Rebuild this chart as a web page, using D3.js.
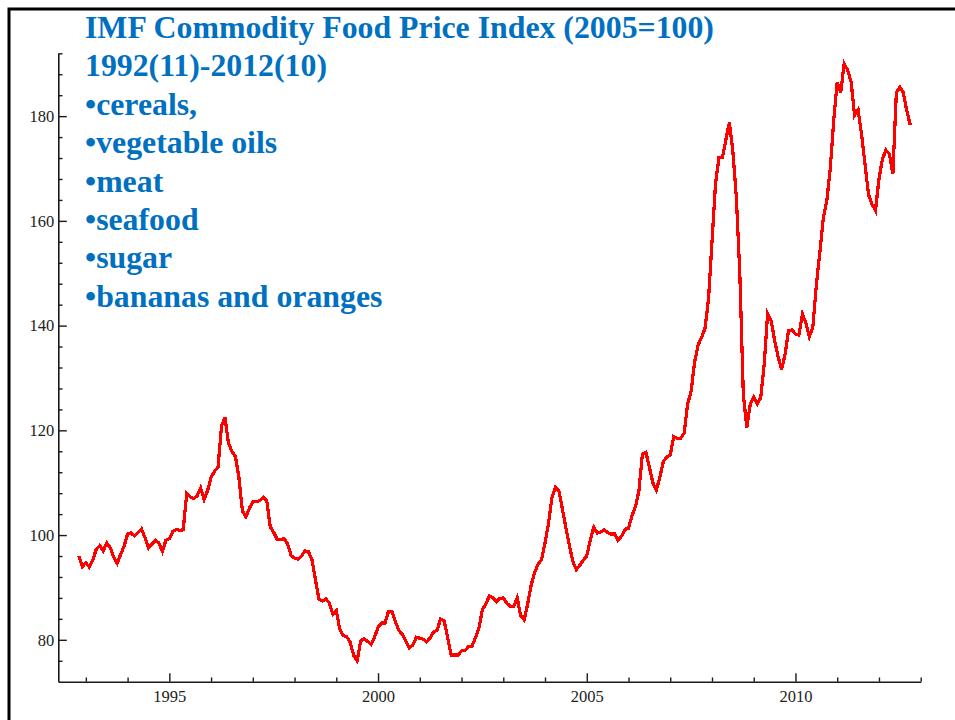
<!DOCTYPE html>
<html>
<head>
<meta charset="utf-8">
<script src="https://cdn.jsdelivr.net/npm/d3@7"></script>
<style>
  html, body { margin: 0; padding: 0; background: #fff; }
  svg { display: block; }
</style>
</head>
<body>
<script>
// ---- Data (IMF Commodity Food Price Index, 2005=100, monthly Nov 1992 - Oct 2012) ----
const startYear = 1992;
const startMonth = 11; // November
const foodIndex = [
  96.0, 94.0, 94.7, 93.9, 95.3, 97.3, 98.0, 97.0, 98.5, 97.6, 95.8, 94.6,
  96.3, 97.9, 100.2, 100.4, 99.8, 100.5, 101.2, 99.5, 97.5, 98.3, 99.0, 98.5,
  96.9, 99.0, 99.3, 100.7, 101.1, 100.9, 101.0, 108.0, 107.3, 107.0, 107.5, 109.0,
  106.8, 108.5, 111.0, 112.2, 113.0, 120.8, 122.5, 117.5, 116.0, 115.0, 111.0, 104.6,
  103.5, 105.1, 106.4, 106.4, 106.6, 107.2, 106.6, 101.6, 100.5, 99.2, 99.2, 99.3,
  98.3, 96.1, 95.6, 95.4, 96.0, 97.0, 96.8, 95.3, 91.5, 87.8, 87.4, 87.8,
  87.0, 84.9, 85.6, 82.0, 80.8, 80.6, 79.5, 77.0, 76.0, 79.8, 80.2, 79.7,
  79.1, 80.5, 82.4, 83.2, 83.2, 85.4, 85.4, 83.4, 81.8, 81.0, 79.7, 78.4,
  79.0, 80.5, 80.3, 80.1, 79.6, 80.4, 81.5, 81.9, 84.0, 83.6, 80.5, 77.1,
  77.1, 77.1, 77.9, 77.9, 78.7, 78.7, 80.4, 82.2, 85.8, 86.8, 88.4, 88.0,
  87.3, 87.9, 88.0, 87.0, 86.4, 86.4, 88.0, 84.6, 83.8, 86.8, 90.4, 92.8,
  94.4, 95.3, 98.5, 102.2, 107.2, 109.1, 108.4, 105.0, 101.4, 98.0, 95.0, 93.4,
  94.2, 95.2, 96.0, 99.0, 101.5, 100.4, 100.6, 101.0, 100.5, 100.2, 100.2, 99.0,
  99.8, 101.1, 101.3, 103.7, 105.4, 108.5, 115.5, 115.8, 113.0, 110.0, 108.6, 111.0,
  114.0, 114.9, 115.3, 118.8, 118.5, 118.5, 119.5, 125.0, 127.5, 133.0, 136.3, 137.7,
  139.5, 145.0, 156.0, 167.0, 172.1, 172.1, 175.5, 178.8, 173.3, 164.5, 150.0, 127.0,
  120.5, 125.0, 126.4, 125.0, 126.2, 132.5, 142.3, 141.0, 137.2, 134.1, 131.6, 134.5,
  139.0, 139.2, 138.4, 138.2, 142.2, 140.5, 137.9, 139.8, 147.8, 153.9, 160.5, 163.8,
  170.0, 179.2, 186.5, 184.5, 190.0, 188.8, 186.5, 180.2, 181.2, 176.5, 170.8, 165.0,
  163.2, 162.0, 168.0, 171.8, 173.5, 172.8, 169.0, 184.5, 185.5, 184.5, 181.0, 178.3
];
const xMajorTicks = [1995, 2000, 2005, 2010];
const xMinorTicks = [1993, 1994, 1996, 1997, 1998, 1999, 2001, 2002, 2003, 2004, 2006, 2007, 2008, 2009, 2011, 2012, 2013];
const yMajorTicks = [80, 100, 120, 140, 160, 180];
const yMinorTicks = [76, 84, 88, 92, 96, 104, 108, 112, 116, 124, 128, 132, 136, 144, 148, 152, 156, 164, 168, 172, 176, 184, 188, 192];
const titleLines = ["IMF Commodity Food Price Index (2005=100)", "1992(11)-2012(10)"];
const bulletItems = ["cereals,", "vegetable oils", "meat", "seafood", "sugar", "bananas and oranges"];

// ---- Build ----
const W = 955, H = 720;
const series = foodIndex.map((v, i) => ({ t: startYear + (startMonth - 1 + i) / 12, v }));

const svg = d3.select("body").append("svg").attr("width", W).attr("height", H);
svg.append("rect").attr("width", W).attr("height", H).attr("fill", "#fff");

// frame
svg.append("rect")
  .attr("x", 9).attr("y", 9).attr("width", 1000).attr("height", 1000)
  .attr("fill", "none").attr("stroke", "#000").attr("stroke-width", 3);

const x = d3.scaleLinear().domain([1992.34, 2013]).range([58.3, 920.7]);
const y = d3.scaleLinear().domain([72, 192]).range([681.7, 53.3]);

const axisColor = "#1a1a1a";
const labelFont = "'Liberation Serif', 'Times New Roman', serif";

function styleAxis(g) {
  g.selectAll("path.domain").attr("stroke", axisColor).attr("stroke-width", 1.6);
  g.selectAll(".tick line").attr("stroke", axisColor).attr("stroke-width", 1.4);
  g.selectAll(".tick text").attr("fill", "#222").style("font-family", labelFont).style("font-size", "16.5px");
}

// x axis
const gx = svg.append("g").attr("transform", `translate(0,${y(72)})`);
gx.call(d3.axisBottom(x).tickValues(xMajorTicks).tickSize(-8.5).tickSizeOuter(0)
  .tickPadding(9).tickFormat(d3.format("d")));
styleAxis(gx);
const gx2 = svg.append("g").attr("transform", `translate(0,${y(72)})`);
gx2.call(d3.axisBottom(x).tickValues(xMinorTicks).tickSize(-4.2).tickSizeOuter(0).tickFormat(""));
gx2.select("path.domain").remove();
styleAxis(gx2);

// y axis
const gy = svg.append("g").attr("transform", `translate(${x(1992.34)},0)`);
gy.call(d3.axisLeft(y).tickValues(yMajorTicks).tickSize(-8.5).tickSizeOuter(0)
  .tickPadding(4).tickFormat(d3.format("d")));
styleAxis(gy);
const gy2 = svg.append("g").attr("transform", `translate(${x(1992.34)},0)`);
gy2.call(d3.axisLeft(y).tickValues(yMinorTicks).tickSize(-4.2).tickSizeOuter(0).tickFormat(""));
gy2.select("path.domain").remove();
styleAxis(gy2);

// line
const line = d3.line().x(d => x(d.t)).y(d => y(d.v));
svg.append("path")
  .datum(series)
  .attr("d", line)
  .attr("fill", "none")
  .attr("stroke", "#ff0000")
  .attr("stroke-width", 3.2)
  .attr("stroke-linejoin", "miter")
  .attr("shape-rendering", "crispEdges");

// title text block
const titleFont = "'Liberation Serif', 'Times New Roman', serif";
const allLines = titleLines.concat(bulletItems.map(s => "\u2022" + s));
svg.append("g").selectAll("text")
  .data(allLines)
  .join("text")
  .attr("x", 85)
  .attr("y", (d, i) => 38 + i * 38.4)
  .attr("fill", "#0070C0")
  .style("font-family", titleFont)
  .style("font-weight", "bold")
  .style("font-size", "31.8px")
  .text(d => d);
</script>
</body>
</html>
